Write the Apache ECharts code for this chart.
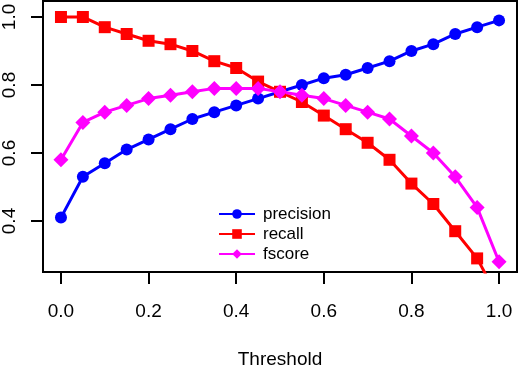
<!DOCTYPE html>
<html>
<head>
<meta charset="utf-8">
<script src="https://cdn.jsdelivr.net/npm/echarts@6/dist/echarts.min.js"></script>
<style>html,body{margin:0;padding:0;background:#fff}#c{width:518px;height:368px}</style>
</head>
<body>
<div id="c"></div>
<script>
var thresholds = [0.0,0.05,0.1,0.15,0.2,0.25,0.3,0.35,0.4,0.45,0.5,0.55,0.6,0.65,0.7,0.75,0.8,0.85,0.9,0.95,1.0];
var precision = [0.41,0.53,0.57,0.61,0.64,0.67,0.70,0.72,0.74,0.76,0.78,0.80,0.82,0.83,0.85,0.87,0.90,0.92,0.95,0.97,0.99];
var recall    = [1.00,1.00,0.97,0.95,0.93,0.92,0.90,0.87,0.85,0.81,0.78,0.75,0.71,0.67,0.63,0.58,0.51,0.45,0.37,0.29,0.17];
var fscore    = [0.58,0.69,0.72,0.74,0.76,0.77,0.78,0.79,0.79,0.79,0.78,0.77,0.76,0.74,0.72,0.70,0.65,0.60,0.53,0.44,0.28];
var xTicks = [0.0,0.2,0.4,0.6,0.8,1.0];
var yTicks = [0.4,0.6,0.8,1.0];

function pairs(v){ return thresholds.map(function(t,i){return [t,v[i]];}); }
var font = "'Liberation Sans', Arial, sans-serif";
function mk(name, color, symbol, size, data){
  return {name:name, type:'line', data:pairs(data), symbol:symbol, symbolSize:size,
    lineStyle:{color:color,width:3}, itemStyle:{color:color}, clip:true, z:2};
}
var chart = echarts.init(document.getElementById('c'), null, {renderer:'canvas'});
chart.setOption({
  animation:false,
  grid:{left:43, top:1, right:1, bottom:96, show:true, borderColor:'#000', borderWidth:2,
    backgroundColor:'transparent', containLabel:false, outerBoundsMode:'none'},
  xAxis:{type:'value', min:-0.041, max:1.041,
    name:'Threshold', nameLocation:'middle', nameGap:78,
    nameTextStyle:{fontFamily:font, fontSize:19, color:'#000'},
    axisLine:{show:true, onZero:false, lineStyle:{color:'#000', width:2}},
    axisTick:{show:true, length:12, lineStyle:{color:'#000', width:2}, customValues:xTicks},
    axisLabel:{customValues:xTicks, margin:30, fontFamily:font, fontSize:19, color:'#000',
      formatter:function(v){return v.toFixed(1);}},
    splitLine:{show:false}},
  yAxis:{type:'value', min:0.25, max:1.047,
    axisLine:{show:true, onZero:false, lineStyle:{color:'#000', width:2}},
    axisTick:{show:true, length:12, lineStyle:{color:'#000', width:2}, customValues:yTicks},
    axisLabel:{customValues:yTicks, rotate:90, margin:24, fontFamily:font, fontSize:19, color:'#000',
      formatter:function(v){return v.toFixed(1);}},
    splitLine:{show:false}},
  legend:{orient:'vertical', left:213, top:199, itemWidth:36, itemHeight:12, itemGap:0,
    textStyle:{fontFamily:font, fontSize:17, color:'#000', lineHeight:20, padding:[0,0,0,3]},
    data:['precision','recall','fscore']},
  series:[
    mk('precision','#0000FF','circle',12,precision),
    mk('recall','#FF0000','rect',12,recall),
    mk('fscore','#FF00FF','diamond',15,fscore)
  ]
});
</script>
</body>
</html>
